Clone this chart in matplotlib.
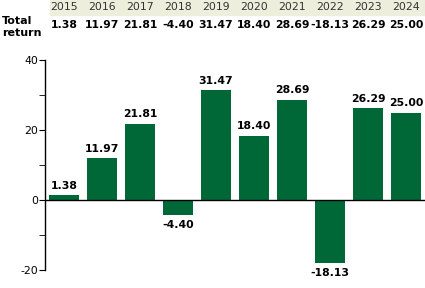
import matplotlib
matplotlib.use("Agg")
import matplotlib.pyplot as plt
from matplotlib.ticker import MultipleLocator

plt.rcParams["axes.unicode_minus"] = False

years = ["2015", "2016", "2017", "2018", "2019", "2020", "2021", "2022", "2023", "2024"]
total_return = [1.38, 11.97, 21.81, -4.40, 31.47, 18.40, 28.69, -18.13, 26.29, 25.00]
row_label = "Total\nreturn"

W, H = 425, 288
fig = plt.figure(figsize=(W / 100, H / 100), dpi=100)

# 图表区：x 从 45px 到 425px，y 从 60px (40) 到 270px (-20)
ax = fig.add_axes([45 / W, 1 - 270 / H, 380 / W, 210 / H])
x = list(range(len(years)))
ax.bar(x, total_return, width=0.77, color="#006837")
ax.set_xlim(-0.5, len(years) - 0.5)
ax.set_ylim(-20, 40)
ax.axhline(0, color="black", linewidth=1)

for s in ["top", "right", "bottom"]:
    ax.spines[s].set_visible(False)
ax.spines["left"].set_linewidth(1)
ax.set_xticks([])
ax.yaxis.set_major_locator(MultipleLocator(20))
ax.yaxis.set_minor_locator(MultipleLocator(10))
ax.tick_params(axis="y", which="major", length=4, labelsize=7.8, pad=1)
ax.tick_params(axis="y", which="minor", length=4)

for xi, v in zip(x, total_return):
    if v >= 0:
        ax.annotate(f"{v:.2f}", (xi, v), xytext=(0, 3), textcoords="offset points",
                    ha="center", va="bottom", fontsize=7.8, fontweight="bold")
    else:
        ax.annotate(f"{v:.2f}", (xi, v), xytext=(0, -3), textcoords="offset points",
                    ha="center", va="top", fontsize=7.8, fontweight="bold")

# 表头：年份 + 总回报
fig.patches.append(plt.Rectangle((50 / W, 1 - 15 / H), 375 / W, 15 / H,
                                 transform=fig.transFigure, color="#eeeedd", zorder=0))
for xi, (yr, v) in enumerate(zip(years, total_return)):
    px = (64 + 38 * xi) / W
    fig.text(px, 1 - 7 / H, yr, ha="center", va="center", fontsize=7.8, color="#333333")
    fig.text(px, 1 - 25 / H, f"{v:.2f}", ha="center", va="center", fontsize=7.8,
             fontweight="bold")
fig.text(2 / W, 1 - 27 / H, row_label, ha="left", va="center", fontsize=8,
         fontweight="bold", linespacing=1.35)

fig.savefig("out.png", dpi=100)
